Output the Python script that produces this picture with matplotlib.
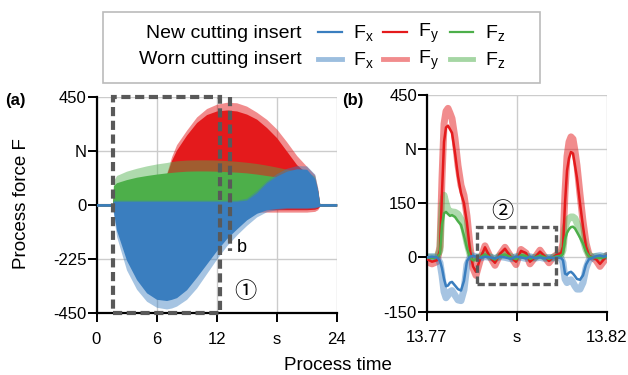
import matplotlib
matplotlib.use("Agg")
import matplotlib.pyplot as plt
from matplotlib.patches import Rectangle
from matplotlib.lines import Line2D

plt.rcParams['font.family'] = ['Liberation Sans', 'Noto Sans CJK JP', 'DejaVu Sans']
plt.rcParams['mathtext.fontset'] = 'custom'
plt.rcParams['mathtext.rm'] = 'Liberation Sans'
plt.rcParams['mathtext.default'] = 'regular'

# ---------------- data: panel (a) envelopes ----------------
t_a = [0, 1.6, 1.7, 2, 3, 4, 5, 6, 7, 7.5, 8, 9, 10, 11, 12, 13, 14, 15, 16, 17, 18, 19, 20, 21, 21.8, 22.1, 22.3, 24]

fx_new_lo = [-5, -5, -30, -105, -230, -310, -365, -392, -397, -392, -385, -352, -300, -245, -190, -140, -100, -62, -35, -20, -15, -12, -12, -12, -10, -8, -5, -5]
fx_new_hi = [5, 5, 15, 15, 15, 15, 15, 15, 15, 15, 15, 15, 15, 15, 15, 15, 15, 20, 50, 92, 120, 140, 150, 148, 110, 60, 5, 5]
fx_worn_lo = [-6, -6, -40, -130, -270, -350, -400, -425, -432, -428, -420, -392, -345, -285, -225, -170, -125, -85, -50, -28, -20, -16, -16, -16, -14, -10, -6, -6]
fx_worn_hi = [6, 6, 20, 20, 20, 20, 20, 20, 20, 20, 20, 20, 20, 20, 20, 20, 20, 28, 60, 100, 130, 152, 163, 162, 128, 70, 6, 6]

fy_new_lo = [-5, -5, -10, -10, -10, -10, -10, -10, -10, -10, -10, -10, -10, -10, -10, -10, -12, -18, -20, -20, -20, -20, -20, -20, -18, -14, -5, -5]
fy_new_hi = [5, 5, 40, 50, 70, 90, 105, 115, 125, 185, 228, 290, 342, 375, 390, 394, 390, 377, 356, 321, 279, 223, 167, 132, 105, 60, 5, 5]
fy_worn_lo = [-6, -6, -15, -15, -15, -15, -15, -15, -15, -15, -15, -15, -15, -15, -15, -15, -18, -26, -30, -30, -30, -30, -30, -30, -27, -20, -6, -6]
fy_worn_hi = [6, 6, 45, 55, 75, 95, 110, 120, 130, 200, 250, 310, 365, 400, 418, 426, 424, 410, 385, 355, 315, 262, 205, 160, 125, 70, 6, 6]

fz_new_lo = [-4, -4, 0, 0, 0, 0, 0, 0, 0, 0, 0, 0, 0, 0, 0, 0, 0, 0, 0, 0, 0, 0, 0, 0, 0, 0, -4, -4]
fz_new_hi = [4, 4, 80, 92, 105, 115, 122, 128, 133, 135, 137, 140, 141, 141, 140, 138, 136, 133, 128, 122, 116, 110, 105, 100, 95, 50, 4, 4]
fz_worn_lo = [-5, -5, 0, 0, 0, 0, 0, 0, 0, 0, 0, 0, 0, 0, 0, 0, 0, 0, 0, 0, 0, 0, 0, 0, 0, 0, -5, -5]
fz_worn_hi = [5, 5, 100, 122, 140, 152, 162, 170, 176, 180, 183, 186, 187, 187, 186, 184, 181, 177, 172, 165, 157, 148, 142, 135, 120, 60, 5, 5]

# ---------------- data: panel (b) zoomed signals ----------------
t_b = [13.77008, 13.77147, 13.77286, 13.77369, 13.77425, 13.77481, 13.77536, 13.77592, 13.77647, 13.77703,
       13.77786, 13.77869, 13.77953, 13.78036, 13.78119, 13.78203, 13.78286, 13.78369, 13.78481, 13.78619,
       13.78758, 13.78897, 13.79036, 13.79175, 13.79342, 13.79481, 13.79619, 13.79758, 13.79869, 13.80008,
       13.80147, 13.80286, 13.80397, 13.80508, 13.80619, 13.80731, 13.80786, 13.80842, 13.80897, 13.80953,
       13.81008, 13.81064, 13.81119, 13.81175, 13.81258, 13.81342, 13.81425, 13.81508, 13.81592, 13.81703,
       13.81814, 13.81925, 13.82000]

fy_new_b = [-5, -12, -8, 20, 180, 320, 360, 365, 355, 345,
            290, 225, 178, 150, 95, 20, -25, -40, -5, 28,
            0, -15, 10, 24, 0, -12, 18, 12, -12, 0,
            16, 2, -10, 0, 8, 12, 30, 150, 240, 275,
            292, 288, 255, 220, 150, 85, 30, 5, 0, -5,
            -18, -5, 5]
fy_worn_b = [-12, -18, -12, 30, 220, 370, 405, 413, 400, 385,
             330, 255, 200, 172, 115, 30, -30, -50, -10, 32,
             2, -22, 8, 28, 2, -20, 22, 12, -18, 0,
             20, 0, -15, 0, 8, 15, 40, 180, 280, 320,
             334, 328, 295, 255, 175, 100, 40, 8, 0, -8,
             -25, -10, 5]
fz_new_b = [0, -2, 0, 10, 90, 122, 126, 120, 115, 117,
            112, 100, 90, 60, 25, 0, -8, -5, 0, 8,
            0, -6, 4, 8, 0, -5, 6, 4, -4, 0,
            5, 0, -4, 0, 3, 4, 10, 50, 68, 78,
            84, 85, 80, 70, 55, 38, 15, 3, 0, 0,
            -2, 0, 2]
fz_worn_b = [2, 0, 2, 20, 140, 172, 150, 132, 128, 126,
             125, 120, 105, 80, 40, 8, -5, -2, 2, 10,
             2, -5, 5, 10, 2, -4, 8, 5, -3, 0,
             6, 0, -3, 0, 4, 6, 20, 80, 100, 108,
             112, 112, 108, 95, 75, 50, 22, 5, 2, 2,
             0, 2, 4]
fx_new_b = [0, 2, 0, -10, -30, -60, -80, -78, -70, -68,
            -78, -88, -92, -65, -10, 2, 4, 2, -2, 2,
            0, -3, 2, 0, -4, 2, 0, -3, 2, -2,
            0, -3, 0, -2, 0, -2, -8, -45, -48, -42,
            -40, -45, -52, -60, -62, -50, -20, -5, -2, 3,
            5, 2, 5]
fx_worn_b = [0, 2, 0, -15, -50, -95, -112, -105, -95, -92,
             -105, -118, -120, -90, -20, 0, 4, 2, -2, 2,
             0, -3, 2, 0, -4, 2, 0, -3, 2, -2,
             0, -3, 0, -2, 0, -2, -15, -60, -70, -65,
             -62, -70, -80, -88, -88, -70, -30, -8, -2, 3,
             5, 2, 5]

# ticks
xt_a = [0, 6, 12, 18, 24]
xtl_a = ['0', '6', '12', 's', '24']
yt_a = [-450, -225, 0, 225, 450]
ytl_a = ['-450', '-225', '0', 'N', '450']
xt_b = [13.77, 13.795, 13.82]
xtl_b = ['13.77', 's', '13.82']
yt_b = [-150, 0, 150, 300, 450]
ytl_b = ['-150', '0', '150', 'N', '450']

C_X = '#3a7ebf'
C_Y = '#e41a1c'
C_Z = '#4daf4a'
ALPHA_W = 0.45
DASH = '#595959'

W, H = 628, 375
fig = plt.figure(figsize=(W / 100, H / 100), dpi=100)

def px(x):
    return x / W

def py(y):
    return 1 - y / H

ax_a = fig.add_axes([px(96.5), py(313.3), px(336.7) - px(96.5), py(96.5) - py(313.3)])
ax_b = fig.add_axes([px(426.7), py(311.5), px(606.7) - px(426.7), py(95) - py(311.5)])

for ax in (ax_a, ax_b):
    ax.set_axisbelow(True)
    ax.grid(True, color='#cccccc', lw=1.0)
    ax.spines['top'].set_visible(False)
    ax.spines['right'].set_visible(False)
    for s in ('left', 'bottom'):
        ax.spines[s].set_linewidth(1.6)
        ax.spines[s].set_color('black')
    ax.tick_params(direction='out', length=6.5, width=1.4, labelsize=12, colors='black')
    ax.tick_params(axis='y', pad=0.5)
    ax.tick_params(axis='x', pad=7)

# panel (a)
ax_a.fill_between(t_a, fy_worn_lo, fy_worn_hi, color=C_Y, alpha=0.5, lw=0, zorder=2)
ax_a.fill_between(t_a, fy_new_lo, fy_new_hi, color=C_Y, lw=0, zorder=3)
ax_a.fill_between(t_a, fz_worn_lo, fz_worn_hi, color=C_Z, alpha=ALPHA_W, lw=0, zorder=4)
ax_a.fill_between(t_a, fz_new_lo, fz_new_hi, color=C_Z, lw=0, zorder=5)
ax_a.fill_between(t_a, fx_worn_lo, fx_worn_hi, color=C_X, alpha=ALPHA_W, lw=0, zorder=6)
ax_a.fill_between(t_a, fx_new_lo, fx_new_hi, color=C_X, lw=0, zorder=7)
ax_a.set_xlim(0, 24)
ax_a.set_ylim(-450, 450)
ax_a.set_xticks(xt_a, xtl_a)
ax_a.set_yticks(yt_a, ytl_a)

ax_a.add_patch(Rectangle((1.62, -450), 12.35 - 1.62, 900, fill=False, ec=DASH, lw=3,
                         ls=(0, (2.2, 1.1)), clip_on=False, zorder=10))
ax_a.plot([13.35, 13.35], [450, -190], color=DASH, lw=3, ls=(0, (2.2, 1.1)),
          clip_on=False, zorder=10)
ax_a.text(14.0, -175, 'b', fontsize=13, ha='left', va='center', zorder=11)
ax_a.text(13.8, -362, '①', fontsize=16, ha='left', va='center', zorder=11)

# panel (b)
ax_b.plot(t_b, fy_worn_b, color=C_Y, alpha=0.5, lw=5, solid_capstyle='round', zorder=2)
ax_b.plot(t_b, fz_worn_b, color=C_Z, alpha=0.45, lw=5, solid_capstyle='round', zorder=2)
ax_b.plot(t_b, fx_worn_b, color=C_X, alpha=0.45, lw=5, solid_capstyle='round', zorder=2)
ax_b.plot(t_b, fy_new_b, color=C_Y, lw=1.8, zorder=3)
ax_b.plot(t_b, fz_new_b, color=C_Z, lw=1.8, zorder=3)
ax_b.plot(t_b, fx_new_b, color=C_X, lw=1.8, zorder=4)
ax_b.set_xlim(13.77, 13.82)
ax_b.set_ylim(-150, 450)
ax_b.set_xticks(xt_b, xtl_b)
ax_b.set_yticks(yt_b, ytl_b)
ax_b.add_patch(Rectangle((13.78406, -73), 13.80583 - 13.78406, 157, fill=False, ec=DASH, lw=2.4,
                         ls=(0, (2.2, 1.1)), zorder=10))
ax_b.text(13.7911, 125, '②', fontsize=16, ha='center', va='center', zorder=11)

# panel labels and axis labels
fig.text(px(5), py(101), '(a)', fontsize=12, fontweight='bold', ha='left', va='center')
fig.text(px(342), py(101), '(b)', fontsize=12, fontweight='bold', ha='left', va='center')
fig.text(px(22), py(204), 'Process force F', fontsize=13.5, rotation=90, ha='center', va='center')
fig.text(px(338), py(365), 'Process time', fontsize=13.5, ha='center', va='center')

# legend (manual layout)
fig.add_artist(Rectangle((px(103.3), py(82.7)), px(540) - px(103.3), py(11.7) - py(82.7),
                         transform=fig.transFigure, fill=False, ec='#bbbbbb', lw=1.2))
rows = [('New cutting insert', 33, 1.0, 1.6), ('Worn cutting insert', 60, ALPHA_W + 0.05, 3.5)]
handles_x = [(318.3, 341.7, 353.3, C_X, 'x'), (383.3, 406.7, 418.3, C_Y, 'y'), (450, 473.3, 485, C_Z, 'z')]
for label, yrow, alpha, lw in rows:
    fig.text(px(301.7), py(yrow), label, fontsize=14, ha='right', va='center')
    for x0, x1, xt, col, sub in handles_x:
        fig.add_artist(Line2D([px(x0), px(x1)], [py(yrow - 1), py(yrow - 1)], transform=fig.transFigure,
                              color=col, alpha=alpha, lw=lw))
        fig.text(px(xt), py(yrow), 'F$_{%s}$' % sub, fontsize=14, ha='left', va='center')

fig.savefig('out.png', dpi=100)
